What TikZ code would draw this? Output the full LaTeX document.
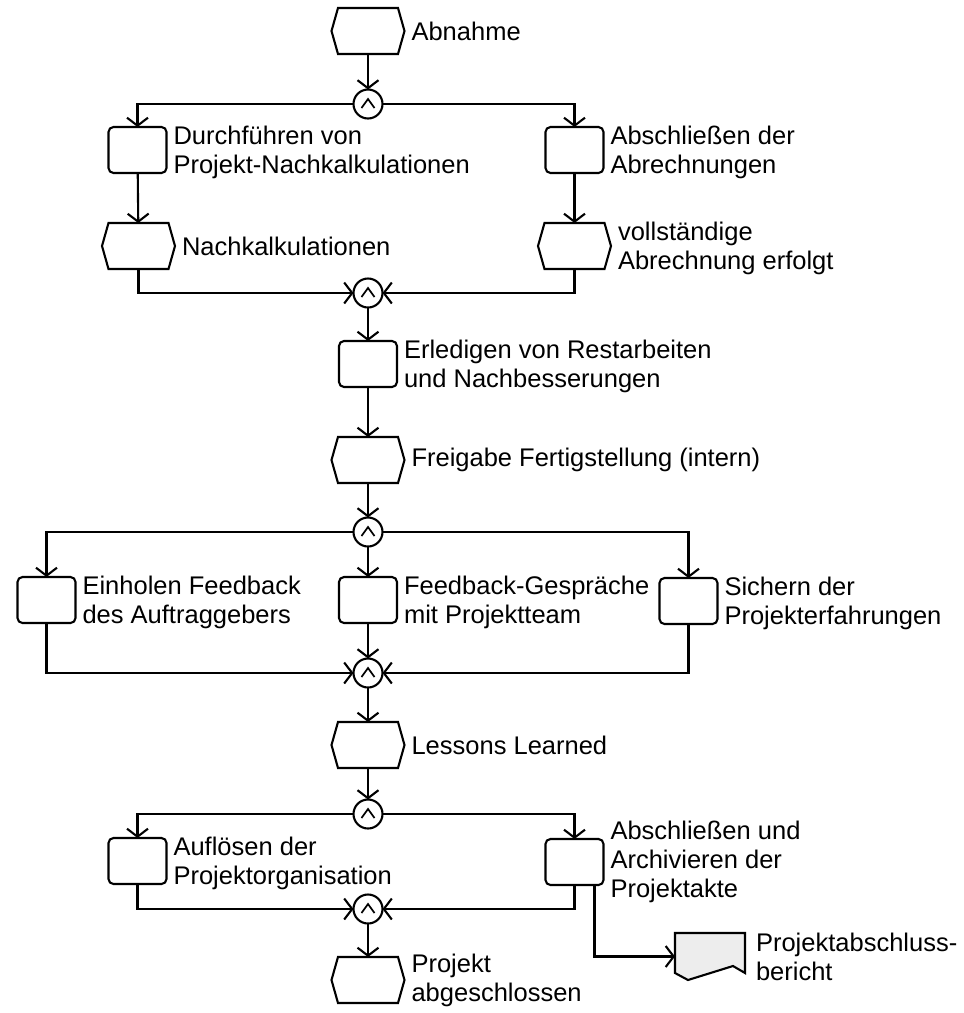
\documentclass[tikz,border=0pt]{standalone}
\usepackage{fontspec}
\setmainfont{Liberation Sans}
\usetikzlibrary{arrows.meta,calc,positioning}
\begin{document}
\begin{tikzpicture}[x=1pt,y=-1pt,
  line width=2.1pt,
  evt/.style={minimum width=73pt,minimum height=46pt,inner sep=0pt,outer sep=0pt},
  fct/.style={draw,rounded corners=5pt,minimum width=58pt,minimum height=46pt,inner sep=0pt,outer sep=0pt},
  conn/.style={draw,circle,minimum size=29pt,inner sep=0pt,outer sep=0pt,
    path picture={\draw[line width=1.7pt] ($(path picture bounding box.center)+(-6.5,4)$) -- ++(6.5,-9) -- ++(6.5,9);}},
  docn/.style={minimum width=70pt,minimum height=47pt,inner sep=0pt,outer sep=0pt},
  lbl/.style={inner sep=0pt,align=left,font=\fontsize{25.5}{29}\selectfont},
  arr/.style={-{Straight Barb[length=8pt,width=21pt]}}]
\useasboundingbox (0,0) rectangle (964,1013);

% events, functions and connectors
\node[evt]  (e1) at (368,31)  {};
\node[conn] (c1) at (368,104) {};
\node[fct]  (f1) at (137.5,150) {};
\node[fct]  (f2) at (574.5,150) {};
\node[evt]  (e2) at (138.5,246) {};
\node[evt]  (e3) at (574.5,246) {};
\node[conn] (c2) at (368,293) {};
\node[fct]  (f3) at (368,364) {};
\node[evt]  (e4) at (368,460) {};
\node[conn] (c3) at (368,532) {};
\node[fct]  (f4) at (46.5,600) {};
\node[fct]  (f5) at (368,600) {};
\node[fct]  (f6) at (688.5,601) {};
\node[conn] (c4) at (368,673) {};
\node[evt]  (e5) at (368,745) {};
\node[conn] (c5) at (368,814) {};
\node[fct]  (f7) at (137.5,861) {};
\node[fct]  (f8) at (574.5,862) {};
\node[conn] (c6) at (368,909) {};
\node[evt]  (e6) at (368,980) {};
\node[docn] (d)  at (710,956.5) {};

% event outlines (hexagons)
\foreach \n in {e1,e2,e3,e4,e5,e6}
  \draw (\n.west) -- ($(\n.north west)+(6.5,0)$) -- ($(\n.north east)+(-6.5,0)$)
    -- (\n.east) -- ($(\n.south east)+(-6.5,0)$) -- ($(\n.south west)+(6.5,0)$) -- cycle;

% document outline
\draw[fill=black!7] (d.north west) -- (d.north east) -- ($(d.south east)+(0,-7)$)
  -- ($(d.south east)+(-12,-14)$) -- ($(d.south west)+(13,0)$)
  -- ($(d.south west)+(0,-7)$) -- cycle;

% texts
\node[lbl,right=6pt of e1] (t1) {Abnahme};
\node[lbl,right=6pt of f1,yshift=-2pt] (t2) {Durchführen von\\Projekt-Nachkalkulationen};
\node[lbl,right=6pt of f2,yshift=-2pt] (t3) {Abschließen der\\Abrechnungen};
\node[lbl,right=6pt of e2] (t4) {Nachkalkulationen};
\node[lbl,right=6pt of e3,yshift=-2pt] (t5) {vollständige\\Abrechnung erfolgt};
\node[lbl,right=6pt of f3,yshift=-2pt] (t6) {Erledigen von Restarbeiten\\und Nachbesserungen};
\node[lbl,right=6pt of e4] (t7) {Freigabe Fertigstellung (intern)};
\node[lbl,right=6pt of f4,yshift=-2pt] (t8) {Einholen Feedback\\des Auftraggebers};
\node[lbl,right=6pt of f5,yshift=-2pt] (t9) {Feedback-Gespräche\\mit Projektteam};
\node[lbl,right=6pt of f6,yshift=-2pt] (t10) {Sichern der\\Projekterfahrungen};
\node[lbl,right=6pt of e5] (t11) {Lessons Learned};
\node[lbl,right=6pt of f7,yshift=-2pt] (t12) {Auflösen der\\Projektorganisation};
\node[lbl,right=6pt of f8] (t13) {Abschließen und\\Archivieren der\\Projektakte};
\node[lbl,right=6pt of e6] (t14) {Projekt\\abgeschlossen};
\node[lbl,right=10pt of d] (t15) {Projektabschluss-\\bericht};

% control flow
\draw[arr] (e1) -- (c1);
\draw[arr] (c1) -| (f1);
\draw[arr] (c1) -| (f2);
\draw[arr] (f1) -- (e2);
\draw[arr] (f2) -- (e3);
\draw[arr] (e2) |- (c2);
\draw[arr] (e3) |- (c2);
\draw[arr] (c2) -- (f3);
\draw[arr] (f3) -- (e4);
\draw[arr] (e4) -- (c3);
\draw[arr] (c3) -| (f4);
\draw[arr] (c3) -- (f5);
\draw[arr] (c3) -| (f6);
\draw[arr] (f4) |- (c4);
\draw[arr] (f5) -- (c4);
\draw[arr] (f6) |- (c4);
\draw[arr] (c4) -- (e5);
\draw[arr] (e5) -- (c5);
\draw[arr] (c5) -| (f7);
\draw[arr] (c5) -| (f8);
\draw[arr] (f7) |- (c6);
\draw[arr] (f8) |- (c6);
\draw[arr] (c6) -- (e6);
\draw[arr] ([xshift=20pt]f8.south) |- (d.west);
\end{tikzpicture}
\end{document}
